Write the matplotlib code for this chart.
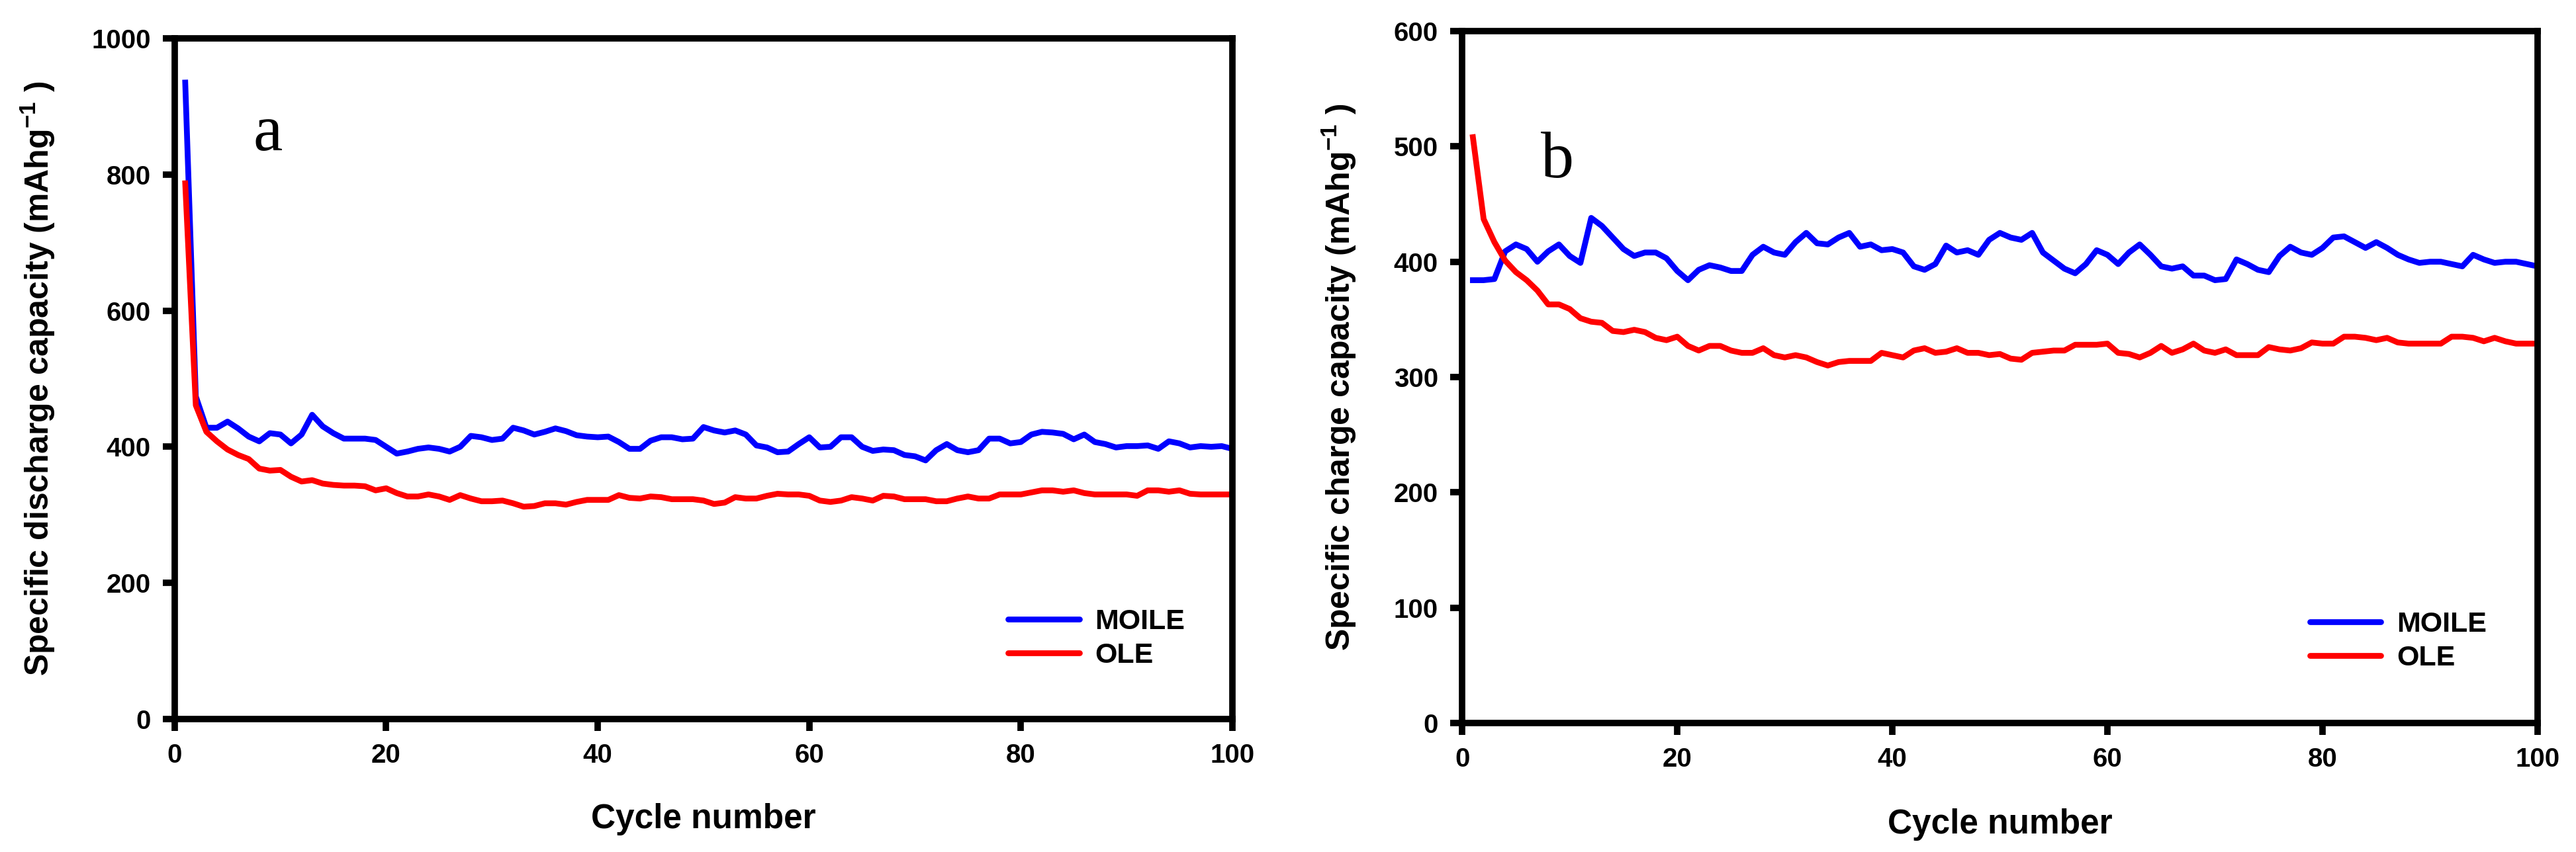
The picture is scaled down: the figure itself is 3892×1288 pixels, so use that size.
import numpy as np
import matplotlib
matplotlib.use("Agg")
import matplotlib.pyplot as plt

plt.rcParams.update({
    "font.family": ["Liberation Sans", "DejaVu Sans"],
    "font.weight": "bold",
    "mathtext.fontset": "custom",
    "mathtext.rm": "Liberation Sans:bold",
    "mathtext.bf": "Liberation Sans:bold",
})

# ---- data ----
moile_dis = [935, 474, 428, 428, 437, 427, 415, 408, 420, 418, 405, 418, 447, 430, 420, 412, 412, 412, 410, 400,
             390, 393, 397, 399, 397, 393, 400, 416, 414, 410, 412, 428, 424, 418, 422, 427, 423, 417, 415, 414,
             415, 407, 397, 397, 409, 414, 414, 411, 412, 429, 424, 421, 424, 418, 402, 399, 392, 393, 404, 414,
             399, 400, 414, 414, 400, 394, 396, 395, 388, 386, 380, 395, 404, 395, 392, 395, 412, 412, 405, 407,
             418, 422, 421, 419, 411, 418, 407, 404, 399, 401, 401, 402, 397, 408, 405, 399, 401, 400, 401, 397]
ole_dis = [787, 461, 422, 408, 396, 388, 382, 368, 365, 366, 356, 349, 351, 346, 344, 343, 343, 342, 336, 339,
           332, 327, 327, 330, 327, 322, 329, 324, 320, 320, 321, 317, 312, 313, 317, 317, 315, 319, 322, 322,
           322, 329, 325, 324, 327, 326, 323, 323, 323, 321, 316, 318, 326, 324, 324, 328, 331, 330, 330, 328,
           321, 319, 321, 326, 324, 321, 328, 327, 323, 323, 323, 320, 320, 324, 327, 324, 324, 330, 330, 330,
           333, 336, 336, 334, 336, 332, 330, 330, 330, 330, 328, 336, 336, 334, 336, 331, 330, 330, 330, 330]
moile_chg = [384, 384, 385, 409, 415, 411, 400, 409, 415, 405, 399, 438, 431, 421, 411, 405, 408, 408, 403, 392,
             384, 393, 397, 395, 392, 392, 406, 413, 408, 406, 417, 425, 416, 415, 421, 425, 413, 415, 410, 411,
             408, 396, 393, 398, 414, 408, 410, 406, 419, 425, 421, 419, 425, 408, 401, 394, 390, 398, 410, 406,
             398, 408, 415, 406, 396, 394, 396, 388, 388, 384, 385, 402, 398, 393, 391, 405, 413, 408, 406, 412,
             421, 422, 417, 412, 417, 412, 406, 402, 399, 400, 400, 398, 396, 406, 402, 399, 400, 400, 398, 396]
ole_chg = [508, 437, 417, 401, 391, 384, 375, 363, 363, 359, 351, 348, 347, 340, 339, 341, 339, 334, 332, 335,
           327, 323, 327, 327, 323, 321, 321, 325, 319, 317, 319, 317, 313, 310, 313, 314, 314, 314, 321, 319,
           317, 323, 325, 321, 322, 325, 321, 321, 319, 320, 316, 315, 321, 322, 323, 323, 328, 328, 328, 329,
           321, 320, 317, 321, 327, 321, 324, 329, 323, 321, 324, 319, 319, 319, 326, 324, 323, 325, 330, 329,
           329, 335, 335, 334, 332, 334, 330, 329, 329, 329, 329, 335, 335, 334, 331, 334, 331, 329, 329, 329]
cycles = np.arange(1, len(moile_dis) + 1)

C_BLUE = "#0000ff"
C_RED = "#ff0000"
LW_SPINE = 7.0
LW_DATA = 6.3

fig = plt.figure(figsize=(38.92, 12.88), dpi=100)
axA = fig.add_axes([0.0678, 0.156, 0.4106, 0.799])
axB = fig.add_axes([0.5676, 0.1514, 0.4175, 0.8121])


def style(ax, ylab, ymax, ystep, letter, lx, ly, lab_x):
    ax.set_xlim(0, 100)
    ax.set_xticks(np.arange(0, 101, 20))
    ax.set_ylim(0, ymax)
    ax.set_yticks(np.arange(0, ymax + 1, ystep))
    for s in ax.spines.values():
        s.set_linewidth(LW_SPINE)
        s.set_capstyle("projecting")
    ax.tick_params(direction="out", length=13, width=7, pad=13, labelsize=29)
    for t in ax.xaxis.get_ticklines() + ax.yaxis.get_ticklines():
        t.set_solid_capstyle("round")
    ax.set_xlabel("Cycle number", fontsize=37, fontweight="bold")
    ax.xaxis.set_label_coords(0.5, -0.123)
    ax.set_ylabel(ylab, fontsize=36, fontweight="bold")
    ax.yaxis.set_label_coords(lab_x, 0.5)
    ax.text(lx, ly, letter, transform=ax.transAxes, fontsize=72,
            family="Liberation Serif", fontweight="normal", ha="left", va="baseline")
    leg = ax.legend(loc="center left", bbox_to_anchor=(0.788, 0.118), frameon=False,
                    fontsize=31, handlelength=2.5, handletextpad=0.55, labelspacing=0.25,
                    borderpad=0, borderaxespad=0)
    for h in leg.get_lines():
        h.set_solid_capstyle("round")


for ax, m, o in ((axA, moile_dis, ole_dis), (axB, moile_chg, ole_chg)):
    ax.plot(cycles, m, color=C_BLUE, lw=LW_DATA, label="MOILE", solid_joinstyle="round")
    ax.plot(cycles, o, color=C_RED, lw=LW_DATA, label="OLE", solid_joinstyle="round")

style(axA, "Specific discharge capacity (mAhg$^{\\mathbf{-1}}$ )", 1000, 200, "a", 0.0745, 0.836, -0.111)
style(axB, "Specific charge capacity (mAhg$^{\\mathbf{-1}}$ )", 600, 100, "b", 0.073, 0.789, -0.0966)

fig.savefig("out.png", dpi=100)
